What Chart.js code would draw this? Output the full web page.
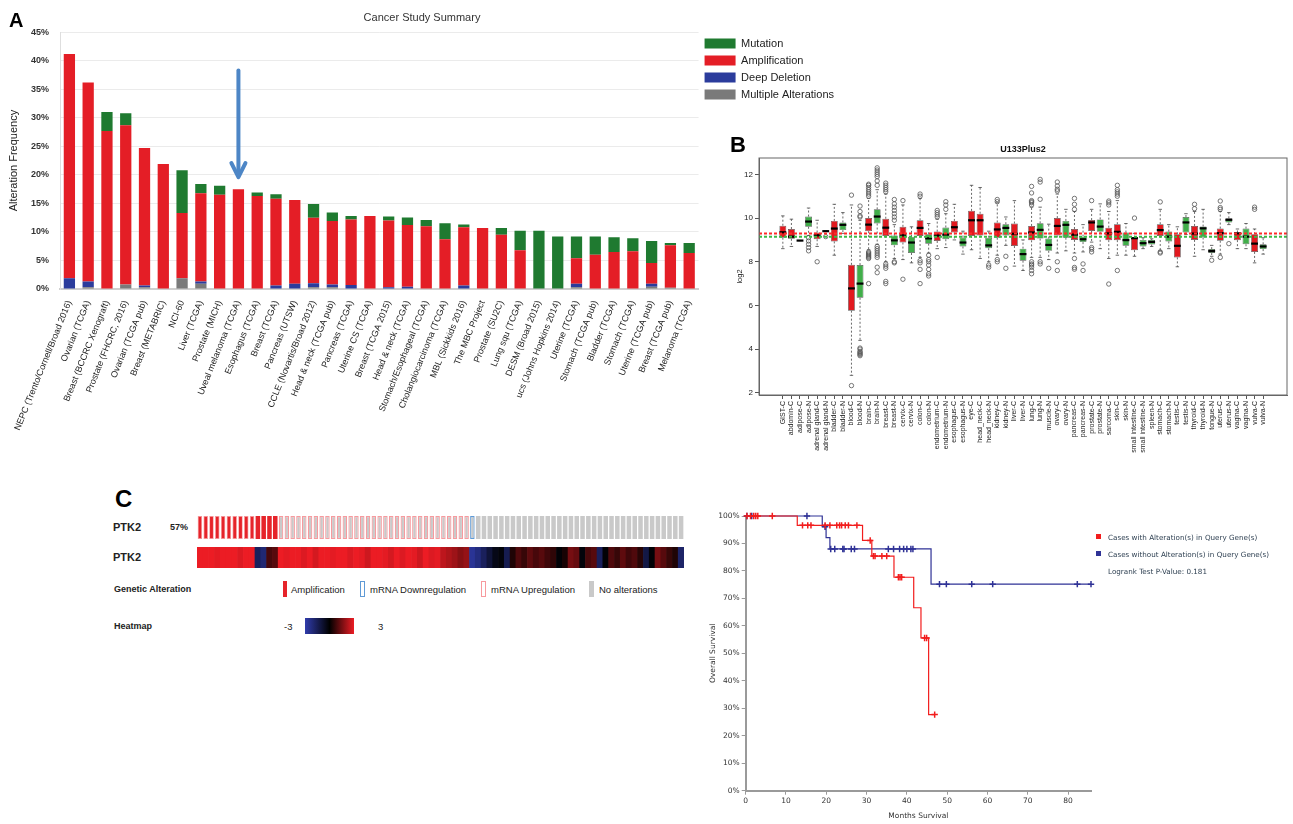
<!DOCTYPE html>
<html>
<head>
<meta charset="utf-8">
<script src="https://cdn.jsdelivr.net/npm/chart.js@4.4.1/dist/chart.umd.min.js"></script>
<style>
  html, body { margin:0; padding:0; background:#fff; }
  body { width:1293px; height:824px; position:relative; overflow:hidden; font-family:'Liberation Sans', Arial, sans-serif; color:#222; }
  .abs { position:absolute; }
  .lbl { position:absolute; white-space:nowrap; transform:translateY(-50%); line-height:1; }
  .let { position:absolute; line-height:1; font-weight:bold; font-family:'Liberation Sans', Arial, sans-serif; color:#000; }
  canvas { position:absolute; }
</style>
</head>
<body>
<canvas id="cA" width="844" height="445" style="left:0;top:0"></canvas>
<canvas id="cB" width="571" height="337" style="left:722px;top:128px"></canvas>
<canvas id="cT1" width="487" height="23" style="left:197px;top:516px"></canvas>
<canvas id="cT2" width="487" height="21" style="left:197px;top:547px"></canvas>
<canvas id="cK" width="593" height="324" style="left:700px;top:500px"></canvas>

<div class="let" style="left:9px;top:10px;font-size:20px">A</div>
<div class="let" style="left:730px;top:134px;font-size:22px">B</div>
<div class="let" style="left:115px;top:487px;font-size:24px">C</div>

<div class="lbl" style="left:113px;top:527px;font:bold 11px 'Liberation Sans'">PTK2</div>
<div class="lbl" id="pct" style="left:170px;top:527px;font:bold 9px 'Liberation Sans'"></div>
<div class="lbl" style="left:113px;top:557px;font:bold 11px 'Liberation Sans'">PTK2</div>
<div class="lbl" style="left:114px;top:589px;font:bold 9px 'Liberation Sans'">Genetic Alteration</div>
<div class="abs" id="lgAmp" style="left:283px;top:581px;width:4px;height:16px"></div>
<div class="lbl" style="left:291px;top:589px;font:9.5px 'Liberation Sans'">Amplification</div>
<div class="abs" id="lgDown" style="left:360px;top:581px;width:3px;height:14px;border:1px solid"></div>
<div class="lbl" style="left:370px;top:589px;font:9.5px 'Liberation Sans'">mRNA Downregulation</div>
<div class="abs" id="lgUp" style="left:481px;top:581px;width:3px;height:14px;border:1px solid"></div>
<div class="lbl" style="left:491px;top:589px;font:9.5px 'Liberation Sans'">mRNA Upregulation</div>
<div class="abs" id="lgNone" style="left:589px;top:581px;width:5px;height:16px"></div>
<div class="lbl" style="left:599px;top:589px;font:9.5px 'Liberation Sans'">No alterations</div>
<div class="lbl" style="left:114px;top:626px;font:bold 9px 'Liberation Sans'">Heatmap</div>
<div class="lbl" style="left:284px;top:626px;font:9.5px 'Liberation Sans'">-3</div>
<div class="abs" id="grad" style="left:305px;top:618px;width:49px;height:16px"></div>
<div class="lbl" style="left:378px;top:626px;font:9.5px 'Liberation Sans'">3</div>

<div class="abs" id="kmSqA" style="left:1096px;top:534px;width:5px;height:5px"></div>
<div class="lbl" style="left:1108px;top:537px;font:7.2px 'DejaVu Sans';color:#2c3e50">Cases with Alteration(s) in Query Gene(s)</div>
<div class="abs" id="kmSqU" style="left:1096px;top:551px;width:5px;height:5px"></div>
<div class="lbl" style="left:1108px;top:554px;font:7.2px 'DejaVu Sans';color:#2c3e50">Cases without Alteration(s) in Query Gene(s)</div>
<div class="lbl" id="pval" style="left:1108px;top:571px;font:7.2px 'DejaVu Sans';color:#2c3e50"></div>

<script>
// ---------------- Panel A data ----------------
const studies = ['NEPC (Trento/Cornell/Broad 2016)','Ovarian (TCGA)','Breast (BCCRC Xenograft)','Prostate (FHCRC, 2016)','Ovarian (TCGA pub)','Breast (METABRIC)','NCI-60','Liver (TCGA)','Prostate (MICH)','Uveal melanoma (TCGA)','Esophagus (TCGA)','Breast (TCGA)','Pancreas (UTSW)','CCLE (Novartis/Broad 2012)','Head & neck (TCGA pub)','Pancreas (TCGA)','Uterine CS (TCGA)','Breast (TCGA 2015)','Head & neck (TCGA)','Stomach/Esophageal (TCGA)','Cholangiocarcinoma (TCGA)','MBL (Sickkids 2016)','The MBC Project','Prostate (SU2C)','Lung squ (TCGA)','DESM (Broad 2015)','ucs (Johns Hopkins 2014)','Uterine (TCGA)','Stomach (TCGA pub)','Bladder (TCGA)','Stomach (TCGA)','Uterine (TCGA pub)','Breast (TCGA pub)','Melanoma (TCGA)'];
const multipleAlt  = [0, 0.3, 0, 0.8, 0.3, 0, 1.9, 0.9, 0, 0, 0, 0, 0, 0.3, 0.3, 0, 0, 0, 0, 0, 0, 0, 0, 0, 0, 0, 0, 0.3, 0, 0, 0, 0.4, 0.2, 0];
const deepDeletion = [1.9, 1.0, 0, 0, 0.3, 0, 0, 0.4, 0, 0, 0, 0.6, 0.9, 0.7, 0.5, 0.7, 0, 0.3, 0.4, 0, 0, 0.6, 0, 0, 0, 0, 0, 0.6, 0, 0, 0, 0.5, 0, 0];
const amplification = [39.3, 34.9, 27.7, 27.9, 24.1, 21.9, 11.4, 15.5, 16.5, 17.5, 16.3, 15.2, 14.7, 11.5, 11.1, 11.5, 12.8, 11.7, 10.8, 11.0, 8.7, 10.2, 10.7, 9.5, 6.8, 0, 0, 4.5, 6.0, 6.5, 6.6, 3.65, 7.45, 6.3];
const mutation     = [0, 0, 3.3, 2.1, 0, 0, 7.5, 1.6, 1.6, 0, 0.6, 0.8, 0, 2.4, 1.5, 0.6, 0, 0.7, 1.35, 1.1, 2.8, 0.5, 0, 1.2, 3.4, 10.2, 9.2, 3.8, 3.2, 2.55, 2.3, 3.85, 0.4, 1.75];
const arrowTarget = 'Uveal melanoma (TCGA)';
const arrowSpan = [38.3, 19.6];

// ---------------- Panel B data ----------------
const tissues = ['GIST-C','abdomin-C','adipose-C','adipose-N','adrenal gland-C','adrenal gland-N','bladder-C','bladder-N','blood-C','blood-N','brain-C','brain-N','breast-C','breast-N','cervix-C','cervix-N','colon-C','colon-N','endometrium-C','endometrium-N','esophagus-C','esophagus-N','eye-C','head_neck-C','head_neck-N','kidney-C','kidney-N','liver-C','liver-N','lung-C','lung-N','muscle-N','ovary-C','ovary-N','pancreas-C','pancreas-N','prostate-C','prostate-N','sarcoma-C','skin-C','skin-N','small intestine-C','small intestine-N','spleen-N','stomach-C','stomach-N','testis-C','testis-N','thyroid-C','thyroid-N','tongue-N','uterus-C','uterus-N','vagina-C','vagina-N','vulva-C','vulva-N'];
const bLow  = [8.6, 8.7, 8.97, 9.2, 8.7, 9.4, 8.3, 9.3, 2.8, 4.4, 8.55, 8.8, 8.0, 8.15, 8.1, 7.95, 8.2, 8.4, 8.6, 8.65, 9.0, 8.35, 8.55, 8.15, 8.0, 8.3, 8.75, 7.8, 7.6, 8.2, 8.2, 8.1, 8.4, 8.5, 8.4, 8.45, 8.9, 8.6, 8.15, 8.3, 8.3, 8.25, 8.6, 8.7, 8.5, 8.6, 7.77, 9.25, 8.25, 8.55, 8.25, 8.35, 9.7, 8.6, 8.6, 7.95, 8.35];
const bQ1   = [9.1, 9.05, 8.97, 9.6, 9.03, 9.4, 8.93, 9.45, 5.76, 6.35, 9.4, 9.75, 9.18, 8.75, 8.88, 8.4, 9.18, 8.83, 8.95, 9.03, 9.34, 8.7, 9.18, 9.2, 8.62, 9.1, 9.2, 8.72, 8.05, 8.98, 9.06, 8.5, 9.2, 9.1, 9.0, 8.9, 9.41, 9.37, 8.99, 8.99, 8.73, 8.53, 8.7, 8.79, 9.18, 8.93, 8.2, 9.34, 9.0, 9.11, 8.4, 8.96, 9.8, 8.99, 8.8, 8.45, 8.58];
const bMed  = [9.35, 9.15, 8.97, 9.84, 9.21, 9.4, 9.52, 9.69, 6.78, 7.0, 9.7, 10.07, 9.56, 8.98, 9.21, 8.88, 9.55, 9.07, 9.2, 9.24, 9.58, 8.88, 9.9, 9.9, 8.75, 9.48, 9.55, 9.28, 8.35, 9.34, 9.46, 8.77, 9.64, 9.69, 9.24, 9.03, 9.8, 9.61, 9.3, 9.37, 8.99, 9.08, 8.85, 8.91, 9.45, 9.15, 8.73, 9.8, 9.29, 9.53, 8.49, 9.31, 9.92, 9.3, 9.15, 8.83, 8.7];
const bQ3   = [9.65, 9.5, 8.97, 10.07, 9.34, 9.4, 9.87, 9.8, 7.86, 7.85, 10.0, 10.4, 9.97, 9.2, 9.6, 9.14, 9.9, 9.26, 9.38, 9.57, 9.87, 9.11, 10.33, 10.2, 9.1, 9.8, 9.72, 9.75, 8.6, 9.64, 9.76, 9.06, 10.0, 9.87, 9.5, 9.15, 9.91, 9.94, 9.56, 9.72, 9.34, 9.1, 9.0, 9.0, 9.72, 9.38, 9.26, 10.05, 9.64, 9.61, 8.58, 9.52, 9.99, 9.34, 9.52, 9.26, 8.8];
const bHigh = [10.1, 9.95, 8.97, 10.46, 9.9, 9.4, 10.63, 10.25, 10.6, 9.9, 10.9, 11.3, 11.1, 9.7, 10.6, 9.6, 10.9, 9.75, 9.95, 10.2, 10.63, 9.4, 11.5, 11.4, 9.4, 10.7, 10.05, 10.8, 9.0, 10.5, 10.5, 9.72, 11.1, 10.4, 10.3, 9.7, 10.4, 10.65, 10.3, 10.8, 9.75, 9.3, 9.1, 9.05, 10.4, 9.7, 9.6, 10.2, 10.3, 10.4, 8.75, 10.3, 10.25, 9.5, 9.75, 9.5, 9.1];
const bOutliers = [[],[],[],[9.1,8.95,8.8,8.65,8.5],[8.0],[9.15],[],[],[11.05,2.33],[10.05,10.1,10.3,10.55,4.05,4.0,3.9,3.85,3.8,3.75,3.7],
  [11.0,11.1,11.2,11.3,11.4,11.5,11.55,8.45,8.4,8.35,8.3,8.25,8.2,8.15,7.0],[11.5,11.7,11.9,12.0,12.1,12.2,12.3,8.7,8.6,8.5,8.4,8.3,8.2,7.75,7.5],
  [11.2,11.3,11.4,11.5,11.6,7.9,7.8,7.7,7.1,7.0],[9.9,10.05,10.2,10.35,10.5,10.65,10.85,8.0,7.95],[10.8,7.2],[],[11.0,11.1,8.05,7.95,7.65,7.0],
  [8.3,8.1,8.0,7.85,7.65,7.45,7.35],[10.05,10.15,10.25,10.35,8.2],[10.4,10.6,10.75],[],[],[],[],[7.85,7.75],[10.75,10.85,8.1,8.0],[8.25,7.7],[],[],
  [10.6,10.7,10.75,10.8,11.15,11.45,8.0,7.9,7.85,7.75,7.6,7.45],[11.77,11.65,10.86,8.0,7.9],[7.7],[11.65,11.47,11.32,11.24,8.0,7.6],[],
  [10.9,10.63,10.4,8.15,7.74,7.66],[7.9,7.6],[10.8,8.65,8.57,8.45],[],[10.78,10.7,10.6,6.98],[11.5,11.3,11.2,11.1,11.0,7.6],[],[10.0],[],[],
  [10.74,8.45,8.4],[],[],[],[10.63,10.43],[],[8.07],[10.78,10.48,10.4,8.2],[8.83],[],[],[10.5,10.4],[]];
const refCancer = 9.29, refNormal = 9.14;

// ---------------- Panel C data ----------------
const caseAlt = ['AU','AU','AU','AU','AU','AU','AU','AU','AU','AU','A','A','A','A',
  'U','U','U','U','U','U','U','U','U','U','U','U','U','U','U','U','U','U','U','U','U','U','U','U','U','U','U','U','U','U','U','U','U',
  'D',
  'N','N','N','N','N','N','N','N','N','N','N','N','N','N','N','N','N','N','N','N','N','N','N','N','N','N','N','N','N','N','N','N','N','N','N','N'];
const caseZ = [3.2,3.0,3.1,2.9,3.0,3.3,3.0,2.8,3.1,3.0, -1.6,-2.0,0.9,1.1,
  3.0,2.9,3.1,3.0,2.8,3.0,2.7,3.1,3.0,2.9,3.0,3.2,2.8,3.0,2.9,2.6,3.0,3.1,2.9,2.7,3.0,2.8,3.0,2.9,2.6,3.0,2.8,2.9,2.4,2.2,2.0,1.7,1.9,
  -2.6,
  -2.2,-1.6,-1.0,-0.4,-0.2,-1.4,0.4,1.0,0.7,1.2,0.9,1.1,0.8,0.6,-0.1,0.3,1.5,1.3,-0.2,0.9,1.1,-1.6,-0.1,1.0,0.7,1.2,0.8,1.0,0.5,-1.2,-0.1,1.5,1.1,0.7,0.4,-1.8];

const kmAltT = [0, 12.8, 29.0, 31.3, 36.8, 41.7, 43.5, 45.4, 46.9];
const kmAltS = [100, 96.6, 91.1, 85.4, 77.7, 66.6, 55.6, 27.7, 27.7];
const kmAltCensor = [0.3, 1.2, 2.0, 2.5, 3.0, 6.6, 14.1, 15.4, 16.2, 19.7, 20.9, 22.6, 23.3, 23.8, 24.7, 25.5, 27.6, 30.9, 31.7, 32.1, 33.8, 35.0, 37.9, 38.3, 38.7, 44.4, 44.9, 46.9];
const kmUnT = [0, 19.0, 19.95, 20.9, 46.0, 85.7];
const kmUnS = [100, 96.1, 92.1, 88.0, 75.2, 75.2];
const kmUnCensor = [0.3, 1.5, 15.2, 19.7, 21.1, 22.1, 24.1, 24.4, 26.2, 27.0, 35.4, 36.7, 38.2, 39.2, 40.0, 41.0, 41.5, 48.1, 49.8, 56.1, 61.3, 82.3, 85.7];
const logrankP = 0.181;

// ---------------- styles ----------------
Chart.defaults.animation = false;
Chart.defaults.font.family = "'Liberation Sans', Arial, sans-serif";
Chart.defaults.color = '#222';
const colA = {mut:'#1f7a30', amp:'#e41e26', del:'#2b3c9c', mult:'#7a7a7a'};
const colB = {C:'#e2191f', N:'#41ae4a'};
const onc = {amp:'#e6242a', none:'#c9c9c9', up:'#f79a9e', down:'#5f9ad6'};
const heatLow = [48, 60, 172], heatHigh = [236, 28, 36];
const kmCol = {alt:'#f21d1d', un:'#2f3296'};

// ---------------- Panel A ----------------
const arrowPlugin = {
  id: 'arrow',
  afterDatasetsDraw(chart) {
    const {ctx, scales: {x, y}} = chart;
    const px = x.getPixelForValue(studies.indexOf(arrowTarget));
    const y0 = y.getPixelForValue(arrowSpan[0]);
    const y1 = y.getPixelForValue(arrowSpan[1]);
    ctx.save();
    ctx.strokeStyle = '#4d86c6';
    ctx.lineWidth = 4;
    ctx.lineCap = 'round';
    ctx.lineJoin = 'round';
    ctx.beginPath(); ctx.moveTo(px, y0); ctx.lineTo(px, y1 - 2); ctx.stroke();
    ctx.beginPath(); ctx.moveTo(px - 7, y1 - 14); ctx.lineTo(px, y1); ctx.lineTo(px + 7, y1 - 14); ctx.stroke();
    ctx.restore();
  }
};
new Chart(document.getElementById('cA'), {
  type: 'bar',
  data: {
    labels: studies,
    datasets: [
      {label: 'Multiple Alterations', data: multipleAlt, backgroundColor: colA.mult},
      {label: 'Deep Deletion', data: deepDeletion, backgroundColor: colA.del},
      {label: 'Amplification', data: amplification, backgroundColor: colA.amp},
      {label: 'Mutation', data: mutation, backgroundColor: colA.mut}
    ]
  },
  options: {
    responsive: false, animation: false,
    layout: {padding: 0},
    datasets: {bar: {categoryPercentage: 0.8, barPercentage: 0.75}},
    plugins: {
      title: {display: true, text: 'Cancer Study Summary', font: {size: 11, weight: 'normal'}, color: '#333', padding: {top: 11, bottom: 8}},
      legend: {position: 'right', align: 'start', reverse: true,
        title: {display: true, text: ' ', font: {size: 10}, padding: {top: 10, bottom: 10}},
        labels: {boxWidth: 31, boxHeight: 10, padding: 6, font: {size: 11}, color: '#222'}},
      tooltip: {enabled: false}
    },
    scales: {
      x: {stacked: true, grid: {display: false}, border: {color: '#cfcfcf', width: 2},
          ticks: {autoSkip: false, minRotation: 68, maxRotation: 68, font: {size: 9}, color: '#222', padding: 2},
          afterFit(s) { s.height = 156; }},
      y: {stacked: true, min: 0, max: 45,
          ticks: {stepSize: 5, callback: v => v + '%', font: {size: 9, weight: 'bold'}, color: '#333', padding: 11},
          grid: {color: '#ebebeb', drawTicks: false}, border: {color: '#dedede'},
          title: {display: true, text: 'Alteration Frequency', font: {size: 11}, color: '#222', padding: {top: 7, bottom: 0}},
          afterFit(s) { s.width = 60; }}
    }
  },
  plugins: [arrowPlugin]
});

// ---------------- Panel B ----------------
const BOX_DS = 1;
const boxPlugin = {
  id: 'boxparts',
  beforeDatasetsDraw(chart) {
    const {ctx, scales: {x, y}} = chart;
    const meta = chart.getDatasetMeta(BOX_DS);
    ctx.save();
    ctx.strokeStyle = '#444';
    ctx.lineWidth = 0.8;
    tissues.forEach((t, i) => {
      const px = x.getPixelForValue(i + 1);
      const hw = meta.data[i].width / 2;
      ctx.setLineDash([2, 2]);
      ctx.beginPath();
      ctx.moveTo(px, y.getPixelForValue(bQ3[i])); ctx.lineTo(px, y.getPixelForValue(bHigh[i]));
      ctx.moveTo(px, y.getPixelForValue(bQ1[i])); ctx.lineTo(px, y.getPixelForValue(bLow[i]));
      ctx.stroke();
      ctx.setLineDash([]);
      ctx.beginPath();
      ctx.moveTo(px - hw / 2, y.getPixelForValue(bHigh[i])); ctx.lineTo(px + hw / 2, y.getPixelForValue(bHigh[i]));
      ctx.moveTo(px - hw / 2, y.getPixelForValue(bLow[i])); ctx.lineTo(px + hw / 2, y.getPixelForValue(bLow[i]));
      ctx.stroke();
    });
    ctx.restore();
  },
  afterDatasetsDraw(chart) {
    const {ctx, chartArea: ca, scales: {x, y}} = chart;
    const meta = chart.getDatasetMeta(BOX_DS);
    ctx.save();
    ctx.strokeStyle = '#000';
    ctx.lineWidth = 2.2;
    tissues.forEach((t, i) => {
      const px = x.getPixelForValue(i + 1);
      const hw = meta.data[i].width / 2;
      const py = y.getPixelForValue(bMed[i]);
      ctx.beginPath(); ctx.moveTo(px - hw, py); ctx.lineTo(px + hw, py); ctx.stroke();
    });
    ctx.lineWidth = 2;
    ctx.setLineDash([3, 2]);
    [[refCancer, '#ff2a2a'], [refNormal, '#3cba45']].forEach(([v, c]) => {
      const py = y.getPixelForValue(v);
      ctx.strokeStyle = c;
      ctx.beginPath(); ctx.moveTo(ca.left, py); ctx.lineTo(ca.right, py); ctx.stroke();
    });
    ctx.setLineDash([]);
    ctx.strokeStyle = '#666';
    ctx.lineWidth = 1;
    ctx.strokeRect(ca.left, ca.top, ca.right - ca.left, ca.bottom - ca.top);
    ctx.restore();
  }
};
const outlierPts = [];
bOutliers.forEach((arr, i) => arr.forEach(v => outlierPts.push({x: i + 1, y: v})));
new Chart(document.getElementById('cB'), {
  type: 'bar',
  data: {
    datasets: [
      {type: 'scatter', data: outlierPts, pointRadius: 2.2, pointBorderColor: '#555', pointBackgroundColor: 'rgba(0,0,0,0)', pointBorderWidth: 0.8},
      {type: 'bar', data: tissues.map((t, i) => ({x: i + 1, y: [bQ1[i], bQ3[i]]})),
       backgroundColor: tissues.map(t => t.endsWith('-C') ? colB.C : colB.N),
       borderColor: '#555', borderWidth: 0.7, borderSkipped: false,
       barPercentage: 0.8, categoryPercentage: 1}
    ]
  },
  options: {
    responsive: false, animation: false,
    layout: {padding: {left: 0, right: 6, top: 0, bottom: 0}},
    plugins: {
      legend: {display: false}, tooltip: {enabled: false},
      title: {display: true, text: 'U133Plus2', fullSize: false, font: {size: 9, weight: 'bold'}, color: '#111', padding: {top: 16.6, bottom: 2.6}}
    },
    scales: {
      x: {type: 'linear', min: -1.78, max: 59.78, offset: false,
          afterBuildTicks(s) { s.ticks = tissues.map((t, i) => ({value: i + 1})); },
          ticks: {autoSkip: false, minRotation: 90, maxRotation: 90, font: {size: 7}, color: '#222', padding: 2,
                  callback: (v) => tissues[Math.round(v) - 1]},
          grid: {drawOnChartArea: false, offset: false, tickLength: 4, color: '#555'},
          border: {color: '#666'},
          afterFit(s) { s.height = 70; }},
      y: {min: 1.9, max: 12.75,
          ticks: {stepSize: 2, includeBounds: false, font: {size: 8}, color: '#222', padding: 2},
          grid: {drawOnChartArea: false, tickLength: 4, color: '#555'},
          border: {color: '#666'},
          title: {display: true, text: 'log2', font: {size: 7.5}, color: '#222', padding: {top: 13.5, bottom: 0}},
          afterFit(s) { s.width = 37; }}
    }
  },
  plugins: [boxPlugin]
});

// ---------------- Panel C: oncoprint ----------------
function heatColor(z) {
  const t = Math.max(-1, Math.min(1, z / 3));
  const c = t < 0 ? heatLow : heatHigh;
  const a = Math.abs(t);
  return `rgb(${Math.round(c[0] * a)},${Math.round(c[1] * a)},${Math.round(c[2] * a)})`;
}
const caseIds = caseAlt.map((a, i) => 'case' + (i + 1));
const altered = caseAlt.filter(a => a !== 'N').length;
document.getElementById('pct').textContent = Math.round(altered / caseAlt.length * 100) + '%';
const trackOpts = (pct) => ({
  responsive: false, animation: false,
  layout: {padding: 0},
  plugins: {legend: {display: false}, tooltip: {enabled: false}},
  datasets: {bar: {barPercentage: pct, categoryPercentage: 1}},
  scales: {x: {display: false}, y: {display: false, min: 0, max: 1}}
});
new Chart(document.getElementById('cT1'), {
  type: 'bar',
  data: {labels: caseIds, datasets: [{
    data: caseAlt.map(() => 1),
    backgroundColor: caseAlt.map(a => a.includes('A') ? onc.amp : onc.none),
    borderColor: caseAlt.map(a => a.includes('U') ? onc.up : (a === 'D' ? onc.down : 'rgba(0,0,0,0)')),
    borderWidth: caseAlt.map(a => a === 'AU' ? 0.8 : ((a === 'U' || a === 'D') ? 1.2 : 0)),
    borderSkipped: false
  }]},
  options: trackOpts(0.78)
});
new Chart(document.getElementById('cT2'), {
  type: 'bar',
  data: {labels: caseIds, datasets: [{
    data: caseZ.map(() => 1),
    backgroundColor: caseZ.map(heatColor),
    borderWidth: 0
  }]},
  options: trackOpts(1)
});
document.getElementById('lgAmp').style.background = onc.amp;
document.getElementById('lgDown').style.borderColor = onc.down;
document.getElementById('lgUp').style.borderColor = onc.up;
document.getElementById('lgNone').style.background = onc.none;
document.getElementById('grad').style.background =
  `linear-gradient(to right, ${heatColor(-3)}, ${heatColor(0)} 50%, ${heatColor(3)})`;

// ---------------- Panel C: Kaplan-Meier ----------------
const survAt = (T, S, t) => { let s = S[0]; T.forEach((tt, i) => { if (tt <= t) s = S[i]; }); return s; };
const stepPts = (T, S) => T.map((t, i) => ({x: t, y: S[i]}));
const censorPts = (C, T, S) => C.map(t => ({x: t, y: survAt(T, S, t)}));
document.getElementById('kmSqA').style.background = kmCol.alt;
document.getElementById('kmSqU').style.background = kmCol.un;
document.getElementById('pval').textContent = 'Logrank Test P-Value: ' + logrankP;
const kmFont = {family: "'DejaVu Sans', Verdana, sans-serif", size: 7.5};
new Chart(document.getElementById('cK'), {
  type: 'line',
  data: {datasets: [
    {data: censorPts(kmAltCensor, kmAltT, kmAltS), showLine: false, pointStyle: 'cross', pointRadius: 3.2, pointBorderColor: kmCol.alt, pointBorderWidth: 1.5, clip: false},
    {data: censorPts(kmUnCensor, kmUnT, kmUnS), showLine: false, pointStyle: 'cross', pointRadius: 3.2, pointBorderColor: kmCol.un, pointBorderWidth: 1.5, clip: false},
    {data: stepPts(kmAltT, kmAltS), stepped: true, borderColor: kmCol.alt, borderWidth: 1.2, pointRadius: 0, fill: false, clip: false},
    {data: stepPts(kmUnT, kmUnS), stepped: true, borderColor: kmCol.un, borderWidth: 1.2, pointRadius: 0, fill: false, clip: false}
  ]},
  options: {
    responsive: false, animation: false,
    layout: {padding: {left: 0, right: 202, top: 16, bottom: 0}},
    plugins: {legend: {display: false}, tooltip: {enabled: false}},
    scales: {
      x: {type: 'linear', min: 0, max: 85.7,
          ticks: {stepSize: 10, includeBounds: false, font: kmFont, color: '#333', padding: 2},
          grid: {drawOnChartArea: false, tickLength: 4, color: '#9a9a9a'},
          border: {color: '#9a9a9a', width: 2},
          title: {display: true, text: 'Months Survival', font: kmFont, color: '#333', padding: {top: 4, bottom: 3.2}},
          afterFit(s) { s.height = 33.3; }},
      y: {min: 0, max: 100,
          ticks: {stepSize: 10, callback: v => v + '%', font: kmFont, color: '#333', padding: 2},
          grid: {drawOnChartArea: false, tickLength: 4, color: '#9a9a9a'},
          border: {color: '#9a9a9a', width: 2},
          title: {display: true, text: 'Overall Survival', font: kmFont, color: '#333', padding: {top: 8.2, bottom: 0}},
          afterFit(s) { s.width = 45.7; }}
    }
  }
});
</script>
</body>
</html>
